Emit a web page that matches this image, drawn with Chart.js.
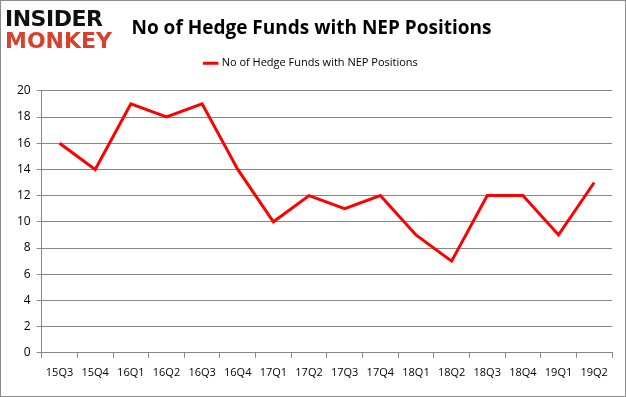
<!DOCTYPE html>
<html>
<head>
<meta charset="utf-8">
<script src="https://cdn.jsdelivr.net/npm/chart.js@4"></script>
<style>
  html, body { margin: 0; padding: 0; background: #fff; }
  #wrap { position: relative; width: 624px; height: 395px; border: 1px solid #8c8c8c; }
  #logo { position: absolute; left: 4px; top: 7px; font-family: "DejaVu Sans", sans-serif; font-weight: bold; line-height: 22px; }
  #logo .a { color: #111; font-size: 22px; letter-spacing: -0.5px; }
  #logo .b { color: #d8412c; font-size: 22px; }
</style>
</head>
<body>
<div id="wrap">
  <canvas id="c" width="624" height="395"></canvas>
  <div id="logo"><div class="a">INSIDER</div><div class="b">MONKEY</div></div>
</div>
<script>
const quarters = ['15Q3', '15Q4', '16Q1', '16Q2', '16Q3', '16Q4', '17Q1', '17Q2', '17Q3', '17Q4', '18Q1', '18Q2', '18Q3', '18Q4', '19Q1', '19Q2'];
const funds = [16, 14, 19, 18, 19, 14, 10, 12, 11, 12, 9, 7, 12, 12, 9, 13];
const seriesName = 'No of Hedge Funds with NEP Positions';

// extra room below the legend, like the original
const legendGap = {
    id: 'legendGap',
    beforeInit(chart) {
        const fit = chart.legend.fit;
        chart.legend.fit = function () {
            fit.bind(chart.legend)();
            this.height += 12;
        };
    }
};

const ctx = document.getElementById('c').getContext('2d');
new Chart(ctx, {
    type: 'line',
    data: {
        labels: quarters,
        datasets: [{
            label: seriesName,
            data: funds,
            borderColor: '#ff0000',
            backgroundColor: '#ff0000',
            borderWidth: 3,
            pointRadius: 0,
            tension: 0
        }]
    },
    plugins: [legendGap],
    options: {
        responsive: false,
        animation: false,
        layout: { padding: { left: 10, right: 13, top: 10, bottom: 9 } },
        plugins: {
            title: {
                display: true,
                text: seriesName,
                color: '#000',
                font: { family: 'Open Sans', size: 19, weight: 'bold' },
                padding: { top: 6, bottom: 8 }
            },
            legend: {
                labels: {
                    usePointStyle: true,
                    pointStyle: 'line',
                    boxWidth: 24,
                    color: '#000',
                    font: { family: 'Open Sans', size: 11 }
                }
            },
            tooltip: { enabled: false }
        },
        scales: {
            x: {
                offset: true,
                grid: { offset: true, drawOnChartArea: false, drawTicks: true, tickLength: 5, color: '#868686' },
                border: { color: '#868686' },
                ticks: { color: '#000', font: { family: 'Open Sans', size: 11 }, maxRotation: 0, padding: 8 }
            },
            y: {
                min: 0,
                max: 20,
                ticks: { stepSize: 2, color: '#000', font: { family: 'Open Sans', size: 12 }, padding: 6 },
                grid: { color: '#868686', tickLength: 5 },
                border: { color: '#868686' }
            }
        }
    }
});
</script>
</body>
</html>
